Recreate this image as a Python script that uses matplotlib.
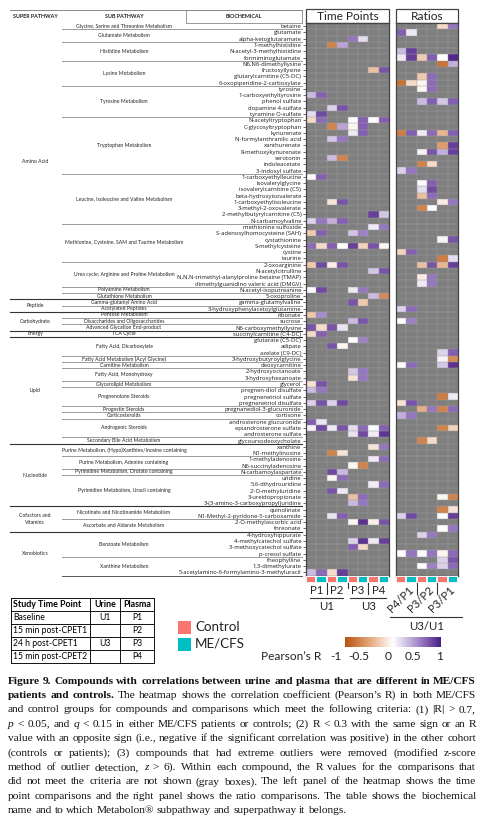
import numpy as np
import matplotlib
matplotlib.use("Agg")
import matplotlib.pyplot as plt
from matplotlib.colors import LinearSegmentedColormap, ListedColormap
from matplotlib.patches import Rectangle
from matplotlib.cm import ScalarMappable
from matplotlib.colors import Normalize

plt.rcParams['font.family'] = ['Lato', 'DejaVu Sans']

# ---------------- data ----------------
biochemicals = [
    "betaine", "glutamate", "alpha-ketoglutaramate", "1-methylhistidine", "N-acetyl-3-methylhistidine",
    "formiminoglutamate", "N6,N6-dimethyllysine", "fructosyllysine", "glutarylcarnitine (C5-DC)",
    "6-oxopiperidine-2-carboxylate", "tyrosine", "1-carboxyethyltyrosine", "phenol sulfate",
    "dopamine 4-sulfate", "tyramine O-sulfate", "N-acetyltryptophan", "C-glycosyltryptophan", "kynurenate",
    "N-formylanthranilic acid", "xanthurenate", "8-methoxykynurenate", "serotonin", "indoleacetate",
    "3-indoxyl sulfate", "1-carboxyethylleucine", "isovalerylglycine", "isovalerylcarnitine (C5)",
    "beta-hydroxyisovalerate", "1-carboxyethylisoleucine", "3-methyl-2-oxovalerate",
    "2-methylbutyrylcarnitine (C5)", "N-carbamoylvaline", "methionine sulfoxide",
    "S-adenosylhomocysteine (SAH)", "cystathionine", "S-methylcysteine", "cystine", "taurine",
    "2-oxoarginine", "N-acetylcitrulline", "N,N,N-trimethyl-alanylproline betaine (TMAP)",
    "dimethylguanidino valeric acid (DMGV)", "N-acetyl-isoputreanine", "5-oxoproline",
    "gamma-glutamylvaline", "3-hydroxyphenylacetoylglutamine", "ribonate", "sucrose",
    "N6-carboxymethyllysine", "succinylcarnitine (C4-DC)", "glutarate (C5-DC)", "adipate",
    "azelate (C9-DC)", "3-hydroxybutyroylglycine", "deoxycarnitine", "2-hydroxyoctanoate",
    "3-hydroxyhexanoate", "glycerol", "pregnen-diol disulfate", "pregnenetriol sulfate",
    "pregnenetriol disulfate", "pregnanediol-3-glucuronide", "cortisone", "androsterone glucuronide",
    "epiandrosterone sulfate", "androsterone sulfate", "glycoursodeoxycholate", "xanthine",
    "N1-methylinosine", "1-methyladenosine", "N6-succinyladenosine", "N-carbamoylaspartate", "uridine",
    "5,6-dihydrouridine", "2'-O-methyluridine", "3-ureidopropionate",
    "3-(3-amino-3-carboxypropyl)uridine", "quinolinate", "N1-Methyl-2-pyridone-5-carboxamide",
    "2-O-methylascorbic acid", "threonate", "4-hydroxyhippurate", "4-methylcatechol sulfate",
    "3-methoxycatechol sulfate", "p-cresol sulfate", "theophylline", "1,3-dimethylurate",
    "5-acetylamino-6-formylamino-3-methyluracil",
]

sub_pathways = [
    ("Glycine, Serine and Threonine Metabolism", 1), ("Glutamate Metabolism", 2),
    ("Histidine Metabolism", 3), ("Lysine Metabolism", 4), ("Tyrosine Metabolism", 5),
    ("Tryptophan Metabolism", 9), ("Leucine, Isoleucine and Valine Metabolism", 8),
    ("Methionine, Cysteine, SAM and Taurine Metabolism", 6),
    ("Urea cycle; Arginine and Proline Metabolism", 4), ("Polyamine Metabolism", 1),
    ("Glutathione Metabolism", 1), ("Gamma-glutamyl Amino Acid", 1), ("Acetylated Peptides", 1),
    ("Pentose Metabolism", 1), ("Disaccharides and Oligosaccharides", 1),
    ("Advanced Glycation End-product", 1), ("TCA Cycle", 1), ("Fatty Acid, Dicarboxylate", 3),
    ("Fatty Acid Metabolism (Acyl Glycine)", 1), ("Carnitine Metabolism", 1),
    ("Fatty Acid, Monohydroxy", 2), ("Glycerolipid Metabolism", 1), ("Pregnenolone Steroids", 3),
    ("Progestin Steroids", 1), ("Corticosteroids", 1), ("Androgenic Steroids", 3),
    ("Secondary Bile Acid Metabolism", 1),
    ("Purine Metabolism, (Hypo)Xanthine/Inosine containing", 2),
    ("Purine Metabolism, Adenine containing", 2), ("Pyrimidine Metabolism, Orotate containing", 1),
    ("Pyrimidine Metabolism, Uracil containing", 5), ("Nicotinate and Nicotinamide Metabolism", 2),
    ("Ascorbate and Aldarate Metabolism", 2), ("Benzoate Metabolism", 4), ("Xanthine Metabolism", 3),
]

super_pathways = [
    ("Amino Acid", 44), ("Peptide", 2), ("Carbohydrate", 3), ("Energy", 1), ("Lipid", 17),
    ("Nucleotide", 10), ("Cofactors and\nVitamins", 4), ("Xenobiotics", 7),
]

tp_labels = ["P1", "P2", "P3", "P4"]
tp_urine = ["U1", "U3"]
ratio_labels = ["P4/P1", "P3/P2", "P3/P1"]
ratio_urine = "U3/U1"
groups = ["Control", "ME/CFS"]

# Pearson's R, per comparison column (Control / ME/CFS); missing = gray
P1_control = {"1-carboxyethyltyrosine": 0.3, "tyramine O-sulfate": 0.15, "N-acetyltryptophan": -0.2,
              "1-carboxyethylleucine": 0.02, "N-carbamoylvaline": 0.2, "S-adenosylhomocysteine (SAH)": -0.3,
              "S-methylcysteine": 0.65, "2-oxoarginine": -0.3, "N-acetyl-isoputreanine": 0.0, "ribonate": -0.3,
              "N6-carboxymethyllysine": 0.75, "succinylcarnitine (C4-DC)": -0.2, "glycerol": -0.15,
              "pregnen-diol disulfate": 0.3, "pregnenetriol disulfate": 0.2, "androsterone glucuronide": 0.7,
              "epiandrosterone sulfate": 0.05, "5-acetylamino-6-formylamino-3-methyluracil": 0.3}
P1_mecfs = {"1-carboxyethyltyrosine": 0.7, "tyramine O-sulfate": 0.8, "N-acetyltryptophan": 0.65,
            "1-carboxyethylleucine": 0.7, "N-carbamoylvaline": 0.6, "S-adenosylhomocysteine (SAH)": 0.7,
            "S-methylcysteine": -0.2, "2-oxoarginine": 0.8, "N-acetyl-isoputreanine": 0.8, "ribonate": 0.5,
            "N6-carboxymethyllysine": -0.2, "succinylcarnitine (C4-DC)": 0.7, "glycerol": 0.75,
            "pregnen-diol disulfate": 0.6, "pregnenetriol disulfate": 0.75, "androsterone glucuronide": 0.12,
            "epiandrosterone sulfate": 0.8, "5-acetylamino-6-formylamino-3-methyluracil": 0.65}
P2_control = {"1-methylhistidine": -0.7, "dopamine 4-sulfate": 0.2, "C-glycosyltryptophan": -0.7,
              "N-formylanthranilic acid": 0.25, "serotonin": 0.3, "1-carboxyethylisoleucine": -0.15,
              "N-carbamoylvaline": 0.35, "S-methylcysteine": 0.7, "2-oxoarginine": -0.1,
              "N6-carboxymethyllysine": 0.75, "adipate": 0.75, "pregnenetriol disulfate": 0.2,
              "epiandrosterone sulfate": 0.1, "N1-methylinosine": -0.7, "N-carbamoylaspartate": 0.8,
              "uridine": -0.05, "2'-O-methyluridine": 0.75, "N1-Methyl-2-pyridone-5-carboxamide": 0.12,
              "5-acetylamino-6-formylamino-3-methyluracil": -0.2}
P2_mecfs = {"1-methylhistidine": 0.4, "dopamine 4-sulfate": 0.75, "C-glycosyltryptophan": 0.4,
            "N-formylanthranilic acid": 0.6, "serotonin": -0.7, "1-carboxyethylisoleucine": 0.75,
            "N-carbamoylvaline": 0.7, "S-methylcysteine": 0.0, "2-oxoarginine": 0.75,
            "N6-carboxymethyllysine": 0.12, "adipate": -0.05, "pregnenetriol disulfate": 0.8,
            "epiandrosterone sulfate": 0.75, "N1-methylinosine": -0.15, "N-carbamoylaspartate": 0.3,
            "uridine": 0.65, "2'-O-methyluridine": 0.1, "N1-Methyl-2-pyridone-5-carboxamide": 0.7,
            "5-acetylamino-6-formylamino-3-methyluracil": 0.85}
P3_control = {"alpha-ketoglutaramate": 0.6, "N-acetyltryptophan": 0.0, "C-glycosyltryptophan": -0.05,
              "kynurenate": 0.1, "S-adenosylhomocysteine (SAH)": 0.25, "S-methylcysteine": 0.85,
              "N-acetyl-isoputreanine": 0.1, "gamma-glutamylvaline": 0.75, "sucrose": 0.3,
              "glutarate (C5-DC)": 0.0, "2-hydroxyoctanoate": 0.25, "3-hydroxyhexanoate": -0.15,
              "epiandrosterone sulfate": 0.15, "androsterone sulfate": 0.12, "N6-succinyladenosine": -0.05,
              "3-ureidopropionate": -0.35, "3-(3-amino-3-carboxypropyl)uridine": 0.3,
              "2-O-methylascorbic acid": -0.05, "4-methylcatechol sulfate": 0.2,
              "3-methoxycatechol sulfate": 0.7}
P3_mecfs = {"alpha-ketoglutaramate": 0.15, "N-acetyltryptophan": 0.7, "C-glycosyltryptophan": 0.7,
            "kynurenate": 0.7, "S-adenosylhomocysteine (SAH)": 0.55, "S-methylcysteine": -0.25,
            "N-acetyl-isoputreanine": 0.6, "gamma-glutamylvaline": -0.3, "sucrose": 0.75,
            "glutarate (C5-DC)": 0.55, "2-hydroxyoctanoate": 0.6, "3-hydroxyhexanoate": 0.6,
            "epiandrosterone sulfate": 0.65, "androsterone sulfate": 0.8, "N6-succinyladenosine": -0.7,
            "3-ureidopropionate": 0.65, "3-(3-amino-3-carboxypropyl)uridine": 0.6,
            "2-O-methylascorbic acid": 0.9, "4-methylcatechol sulfate": 0.9,
            "3-methoxycatechol sulfate": -0.2}
P4_control = {"fructosyllysine": -0.35, "N-acetyltryptophan": 0.0, "2-methylbutyrylcarnitine (C5)": 0.85,
              "methionine sulfoxide": 0.1, "S-methylcysteine": 0.75, "N-acetylcitrulline": 0.25,
              "5-oxoproline": 0.3, "epiandrosterone sulfate": 0.03, "androsterone sulfate": 0.08,
              "xanthine": -0.15, "1-methyladenosine": 0.1, "5,6-dihydrouridine": 0.08,
              "2-O-methylascorbic acid": -0.08, "4-methylcatechol sulfate": 0.1}
P4_mecfs = {"fructosyllysine": 0.75, "N-acetyltryptophan": 0.7, "2-methylbutyrylcarnitine (C5)": 0.25,
            "methionine sulfoxide": 0.6, "S-methylcysteine": -0.05, "N-acetylcitrulline": 0.75,
            "5-oxoproline": -0.65, "epiandrosterone sulfate": 0.7, "androsterone sulfate": 0.9,
            "xanthine": 0.6, "1-methyladenosine": 0.65, "5,6-dihydrouridine": 0.65,
            "2-O-methylascorbic acid": 0.75, "4-methylcatechol sulfate": 0.85}
P4P1_control = {"glutamate": 0.7, "N-acetyl-3-methylhistidine": 0.3, "formiminoglutamate": 0.1,
                "6-oxopiperidine-2-carboxylate": -0.8, "kynurenate": -0.75, "3-indoxyl sulfate": 0.2,
                "cystine": -0.25, "3-hydroxyphenylacetoylglutamine": 0.2, "sucrose": 0.0,
                "deoxycarnitine": 0.0, "pregnenetriol disulfate": -0.15, "cortisone": 0.35,
                "N1-Methyl-2-pyridone-5-carboxamide": 0.2, "p-cresol sulfate": 0.0}
P4P1_mecfs = {"glutamate": 0.1, "N-acetyl-3-methylhistidine": 0.85, "formiminoglutamate": 0.85,
              "6-oxopiperidine-2-carboxylate": -0.2, "kynurenate": 0.7, "3-indoxyl sulfate": 0.6,
              "cystine": 0.7, "3-hydroxyphenylacetoylglutamine": 0.65, "sucrose": 0.55,
              "deoxycarnitine": 0.65, "pregnenetriol disulfate": 0.75, "cortisone": 0.6,
              "N1-Methyl-2-pyridone-5-carboxamide": 0.8, "p-cresol sulfate": 0.6}
P3P2_control = {"formiminoglutamate": -0.3, "glutarylcarnitine (C5-DC)": -0.3,
                "6-oxopiperidine-2-carboxylate": -0.05, "tyrosine": -0.05, "phenol sulfate": 0.3,
                "kynurenate": 0.1, "8-methoxykynurenate": 0.05, "indoleacetate": -0.7,
                "isovalerylglycine": 0.03, "isovalerylcarnitine (C5)": 0.15, "beta-hydroxyisovalerate": -0.35,
                "3-methyl-2-oxovalerate": -0.7, "2-oxoarginine": -0.35,
                "N,N,N-trimethyl-alanylproline betaine (TMAP)": -0.1,
                "dimethylguanidino valeric acid (DMGV)": 0.1, "pregnanediol-3-glucuronide": -0.45,
                "glycoursodeoxycholate": -0.7, "4-hydroxyhippurate": 0.2, "p-cresol sulfate": 0.03,
                "1,3-dimethylurate": 0.0}
P3P2_mecfs = {"formiminoglutamate": 0.7, "glutarylcarnitine (C5-DC)": 0.65,
              "6-oxopiperidine-2-carboxylate": 0.65, "tyrosine": 0.65, "phenol sulfate": 0.7,
              "kynurenate": 0.65, "8-methoxykynurenate": 0.75, "indoleacetate": -0.2,
              "isovalerylglycine": 0.7, "isovalerylcarnitine (C5)": 0.8, "beta-hydroxyisovalerate": 0.65,
              "3-methyl-2-oxovalerate": 0.0, "2-oxoarginine": 0.75,
              "N,N,N-trimethyl-alanylproline betaine (TMAP)": 0.6,
              "dimethylguanidino valeric acid (DMGV)": 0.6, "pregnanediol-3-glucuronide": 0.6,
              "glycoursodeoxycholate": -0.2, "4-hydroxyhippurate": 0.6, "p-cresol sulfate": 0.6,
              "1,3-dimethylurate": 0.55}
P3P1_control = {"betaine": -0.2, "formiminoglutamate": 0.0, "N6,N6-dimethyllysine": -0.8,
                "phenol sulfate": 0.25, "kynurenate": -0.4, "xanthurenate": -0.55, "8-methoxykynurenate": 0.35,
                "1-carboxyethylisoleucine": -0.1, "cystathionine": 0.05, "taurine": -0.75,
                "2-oxoarginine": -0.4, "azelate (C9-DC)": 0.2, "3-hydroxybutyroylglycine": 0.05,
                "deoxycarnitine": 0.25, "pregnenetriol sulfate": -0.75, "pregnanediol-3-glucuronide": -0.7,
                "epiandrosterone sulfate": -0.7, "3-ureidopropionate": -0.05, "quinolinate": -0.7,
                "N1-Methyl-2-pyridone-5-carboxamide": 0.02, "threonate": 0.0, "p-cresol sulfate": -0.05,
                "theophylline": 0.2, "1,3-dimethylurate": 0.2}
P3P1_mecfs = {"betaine": 0.6, "formiminoglutamate": 0.95, "N6,N6-dimethyllysine": 0.35,
              "phenol sulfate": 0.7, "kynurenate": 0.7, "xanthurenate": 0.85, "8-methoxykynurenate": 0.85,
              "1-carboxyethylisoleucine": 0.6, "cystathionine": 0.75, "taurine": 0.15,
              "2-oxoarginine": 0.85, "azelate (C9-DC)": 0.7, "3-hydroxybutyroylglycine": -0.65,
              "deoxycarnitine": 0.9, "pregnenetriol sulfate": 0.1, "pregnanediol-3-glucuronide": 0.65,
              "epiandrosterone sulfate": -0.25, "3-ureidopropionate": -0.7, "quinolinate": -0.15,
              "N1-Methyl-2-pyridone-5-carboxamide": 0.85, "threonate": 0.6, "p-cresol sulfate": 0.65,
              "theophylline": 0.75, "1,3-dimethylurate": 0.65}

time_point_columns = [P1_control, P1_mecfs, P2_control, P2_mecfs, P3_control, P3_mecfs, P4_control, P4_mecfs]
ratio_columns = [P4P1_control, P4P1_mecfs, P3P2_control, P3P2_mecfs, P3P1_control, P3P1_mecfs]

table_rows = [("Baseline", "U1", "P1"), ("15 min post-CPET1", "", "P2"),
              ("24 h post-CPET1", "U3", "P3"), ("15 min post-CPET2", "", "P4")]
table_header = ("Study Time Point", "Urine", "Plasma")

# ---------------- figure ----------------
W, H = 484, 831
fig = plt.figure(figsize=(W / 100, H / 100), dpi=100)
ov = fig.add_axes([0, 0, 1, 1])
ov.set_xlim(0, W)
ov.set_ylim(H, 0)
ov.axis('off')


def px_axes(x0, y0, x1, y1):
    return fig.add_axes([x0 / W, 1 - y1 / H, (x1 - x0) / W, (y1 - y0) / H])


cmap = LinearSegmentedColormap.from_list(
    "pr", [(0, "#B5540F"), (0.25, "#E3A577"), (0.5, "#FFFFFF"), (0.75, "#A88DCB"), (1, "#4A1E85")])
n = len(biochemicals)
HM_TOP, HM_BOT = 23.0, 575.5
pitch = (HM_BOT - HM_TOP) / n


def row_y(i):
    return HM_TOP + (i + 0.5) * pitch


def build(cols):
    M = np.full((n, len(cols)), np.nan)
    for j, d in enumerate(cols):
        for k, v in d.items():
            M[biochemicals.index(k), j] = v
    return np.ma.masked_invalid(M)


def heat(x0, x1, cols, ticks):
    ax = px_axes(x0, HM_TOP, x1, HM_BOT)
    M = build(cols)
    ax.set_facecolor('#7f7f7f')
    ax.pcolormesh(M, cmap=cmap, vmin=-1, vmax=1)
    ax.hlines(np.arange(1, n), 0, len(cols), color='#9c9c9c', lw=0.35)
    ax.vlines(np.arange(1, len(cols)), 0, n, color='#9c9c9c', lw=0.35)
    ax.set_xlim(0, len(cols))
    ax.set_ylim(n, 0)
    ax.set_xticks([])
    if ticks:
        ax.set_yticks(np.arange(n) + 0.5)
        ax.set_yticklabels(biochemicals, fontsize=4.25, family=['Open Sans', 'DejaVu Sans'],
                           color='#1a1a1a')
        ax.tick_params(axis='y', length=2.2, width=0.5, pad=1.2, color='#333333')
    else:
        ax.set_yticks([])
    for s in ax.spines.values():
        s.set_linewidth(0.9)
        s.set_color('#444444')
    # group strip
    sx = px_axes(x0, HM_BOT, x1, 583)
    codes = np.array([[j % 2 for j in range(len(cols))]])
    sx.pcolormesh(codes, cmap=ListedColormap(['#F8766D', '#00BFC4']), vmin=0, vmax=1,
                  edgecolors='#f2f2f2', linewidth=0.3)
    sx.set_xlim(0, len(cols))
    sx.axis('off')
    return ax


heat(306, 389, time_point_columns, True)
heat(396, 458, ratio_columns, False)

# panel headers
for (x0, x1, t) in [(306, 389, "Time Points"), (396, 458, "Ratios")]:
    ov.add_patch(Rectangle((x0, 9), x1 - x0, 14, fill=False, lw=0.9, ec='#444444'))
    ov.text((x0 + x1) / 2, 16.5, t, ha='center', va='center', fontsize=8.6, color='#222222')

# table header (left)
ov.plot([10, 302], [9.5, 9.5], color='#888888', lw=0.7)
ov.add_patch(Rectangle((186, 9.5), 116, 13.5, fill=False, lw=0.6, ec='#888888'))
ov.text(35, 16.5, "SUPER PATHWAY", ha='center', va='center', fontsize=3.9, fontweight='bold', color='#222222')
ov.text(124, 16.5, "SUB PATHWAY", ha='center', va='center', fontsize=3.9, fontweight='bold', color='#222222')
ov.text(244, 16.5, "BIOCHEMICAL", ha='center', va='center', fontsize=3.9, fontweight='bold', color='#222222')

# sub pathways
start = 0
for name, cnt in sub_pathways:
    yc = (row_y(start) + row_y(start + cnt - 1)) / 2
    ov.text(124, yc, name, ha='center', va='center', fontsize=3.7, color='#222222')
    if start > 0:
        yb = HM_TOP + start * pitch
        ov.plot([62, 302], [yb, yb], color='#9a9a9a', lw=0.7)
    start += cnt
ov.plot([62, 302], [HM_BOT, HM_BOT], color='#555555', lw=0.7)

start = 0
for name, cnt in super_pathways:
    yc = (row_y(start) + row_y(start + cnt - 1)) / 2
    ov.text(35, yc, name, ha='center', va='center', fontsize=3.7, color='#222222', linespacing=1.6)
    if start > 0:
        yb = HM_TOP + start * pitch
        ov.plot([10, 302], [yb, yb], color='#333333', lw=0.8)
    start += cnt

# bottom labels time points
lc = '#333333'
colw = (389 - 306) / 8
for k, lab in enumerate(tp_labels):
    ov.text(306 + colw * (2 * k + 1), 590, lab, ha='center', va='center', fontsize=8.2, color='#222222')
for xv, y2 in [(306 + 2 * colw, 594), (306 + 4 * colw, 588), (306 + 6 * colw, 594)]:
    ov.plot([xv, xv], [576, y2], color=lc, lw=0.8)
ov.plot([310, 343], [598, 598], color=lc, lw=0.8)
ov.plot([350, 386], [598, 598], color=lc, lw=0.8)
ov.text(306 + 2 * colw, 606, tp_urine[0], ha='center', va='center', fontsize=8.2, color='#222222')
ov.text(306 + 6 * colw, 606, tp_urine[1], ha='center', va='center', fontsize=8.2, color='#222222')

# bottom labels ratios
rw = (458 - 396) / 6
for k, lab in enumerate(ratio_labels):
    ov.text(396 + rw * (2 * k + 1) - 6, 599, lab, ha='center', va='center', fontsize=8.2,
            rotation=45, color='#222222')
for k in (1, 2):
    xv = 396 + 2 * k * rw
    ov.plot([xv, xv], [576, 594], color=lc, lw=0.8)
ov.plot([390, 462], [617, 617], color=lc, lw=0.8)
ov.text(427, 626, ratio_urine, ha='center', va='center', fontsize=8.2, color='#222222')

# study time point table
tx = [11, 90, 120, 154]
ty = [598 + 13 * i for i in range(6)]
for yv in ty:
    ov.plot([tx[0], tx[-1]], [yv, yv], color='#111111', lw=0.7)
for xv in tx:
    ov.plot([xv, xv], [ty[0], ty[-1]], color='#111111', lw=0.7)
ov.text(13, ty[0] + 6.7, table_header[0], ha='left', va='center', fontsize=6.4, fontweight='bold')
ov.text(105, ty[0] + 6.7, table_header[1], ha='center', va='center', fontsize=6.4, fontweight='bold')
ov.text(137, ty[0] + 6.7, table_header[2], ha='center', va='center', fontsize=6.4, fontweight='bold')
for i, (a, b, c) in enumerate(table_rows):
    yv = ty[i + 1] + 6.7
    ov.text(13, yv, a, ha='left', va='center', fontsize=6.2)
    ov.text(105, yv, b, ha='center', va='center', fontsize=6.2)
    ov.text(137, yv, c, ha='center', va='center', fontsize=6.2)

# group legend
for k, (g, c) in enumerate(zip(groups, ['#F8766D', '#00BFC4'])):
    yc = 627 + 17 * k
    ov.add_patch(Rectangle((178, yc - 6.5), 13, 13, color=c, lw=0))
    ov.text(195, yc, g, ha='left', va='center', fontsize=9.6, color='#222222')

# colorbar
cax = px_axes(345, 637, 441, 647)
cb = fig.colorbar(ScalarMappable(norm=Normalize(-1, 1), cmap=cmap), cax=cax, orientation='horizontal')
cb.set_ticks([])
cb.outline.set_visible(False)
ov.text(291, 657, "Pearson\u2019s R", ha='center', va='center', fontsize=8.6, color='#222222')
for xv, t in [(336, "-1"), (359, "-0.5"), (388, "0"), (413, "0.5"), (440, "1")]:
    ov.text(xv, 657, t, ha='center', va='center', fontsize=8.6, color='#222222')

# caption (justified)
cap_lines = [
    [("Figure 9. Compounds with correlations between urine and plasma that are different in ME/CFS", 'b')],
    [("patients and controls.", 'b'),
     ("The heatmap shows the correlation coefficient (Pearson\u2019s R) in both ME/CFS", 'n')],
    [("and control groups for compounds and comparisons which meet the following criteria: (1) |R| > 0.7,", 'n')],
    [("p", 'i'), ("< 0.05, and", 'n'), ("q", 'i'),
     ("< 0.15 in either ME/CFS patients or controls; (2) R < 0.3 with the same sign or an R", 'n')],
    [("value with an opposite sign (i.e., negative if the significant correlation was positive) in the other cohort", 'n')],
    [("(controls or patients); (3) compounds that had extreme outliers were removed (modified z-score", 'n')],
    [("method of outlier detection,", 'n'), ("z", 'i'),
     ("> 6). Within each compound, the R values for the comparisons that", 'n')],
    [("did not meet the criteria are not shown (gray boxes). The left panel of the heatmap shows the time", 'n')],
    [("point comparisons and the right panel shows the ratio comparisons. The table shows the biochemical", 'n')],
    [("name and to which Metabolon\u00ae subpathway and superpathway it belongs.", 'n')],
]
renderer = fig.canvas.get_renderer()
CX0, CX1 = 8, 476
fs0 = 8.0
all_lines = []
max_nat = 0
for li, segs in enumerate(cap_lines):
    words = []
    for txt, st in segs:
        for w in txt.split(' '):
            if w:
                words.append((w, st))
    yb = 683.5 + li * 14.4
    arts = []
    for w, st in words:
        t = ov.text(0, yb, w, ha='left', va='baseline', fontsize=fs0,
                    family=['Liberation Serif', 'DejaVu Serif'],
                    fontweight='bold' if st == 'b' else 'normal',
                    fontstyle='italic' if st == 'i' else 'normal', color='#111111')
        arts.append(t)
    widths = [a.get_window_extent(renderer).width for a in arts]
    nat = sum(widths) + (len(arts) - 1) * fs0 * 1.389 * 0.25
    if li < len(cap_lines) - 1:
        max_nat = max(max_nat, nat)
    all_lines.append(arts)
fs = fs0 * (CX1 - CX0) / max_nat
for li, arts in enumerate(all_lines):
    for a in arts:
        a.set_fontsize(fs)
    widths = [a.get_window_extent(renderer).width for a in arts]
    if li < len(all_lines) - 1:
        gap = (CX1 - CX0 - sum(widths)) / (len(arts) - 1)
    else:
        gap = fs * 1.389 * 0.25
    x = CX0
    for a, wd in zip(arts, widths):
        a.set_x(x)
        x += wd + gap

fig.savefig("out.png", dpi=100)
